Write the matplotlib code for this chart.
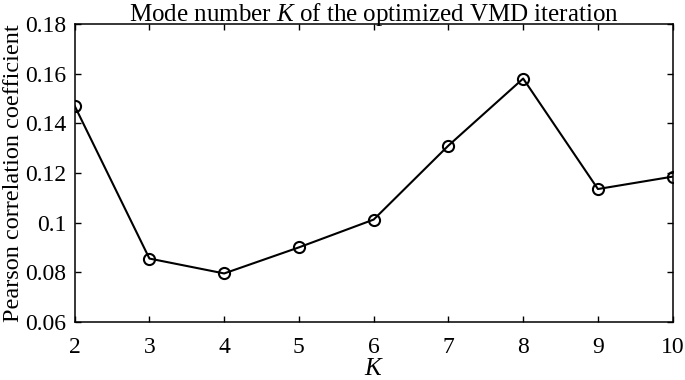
import numpy as np
from matplotlib import pyplot as plt

k_values = [2, 3, 4, 5, 6, 7, 8, 9, 10]
pearson = [0.147, 0.0855, 0.0795, 0.090, 0.1012, 0.131, 0.158, 0.1135, 0.1185]
y_ticks = [0.06, 0.08, 0.1, 0.12, 0.14, 0.16, 0.18]
y_tick_labels = ["0.06", "0.08", "0.1", "0.12", "0.14", "0.16", "0.18"]


def main():
    plt.rcParams["font.family"] = "Liberation Serif"
    plt.rcParams["mathtext.fontset"] = "custom"
    plt.rcParams["mathtext.rm"] = "Liberation Serif"
    plt.rcParams["mathtext.it"] = "Liberation Serif:italic"

    fig = plt.figure(figsize=(6.85, 3.8), dpi=100)
    ax = fig.add_axes([0.109, 0.153, 0.873, 0.784])

    ax.plot(k_values, pearson, color="black", linewidth=1.5, marker="o",
            markersize=8, markerfacecolor="none", markeredgecolor="black",
            markeredgewidth=1.5)

    ax.set_xlim(2, 10)
    ax.set_ylim(0.06, 0.18)
    ax.set_xticks(k_values)
    ax.set_yticks(y_ticks)
    ax.set_yticklabels(y_tick_labels)
    ax.tick_params(direction="in", labelsize=17, length=4, width=1, top=True, right=True)
    ax.tick_params(axis="x", pad=11)
    ax.tick_params(axis="y", pad=6)
    for spine in ax.spines.values():
        spine.set_linewidth(1.1)

    ax.set_title("Mode number $K$ of the optimized VMD iteration", fontsize=18, pad=2)
    ax.set_xlabel("$K$", fontsize=18, labelpad=0)
    ax.set_ylabel("Pearson correlation coefficient", fontsize=17.5, labelpad=1)

    fig.savefig("out.png", dpi=100)


if __name__ == '__main__':
    main()
